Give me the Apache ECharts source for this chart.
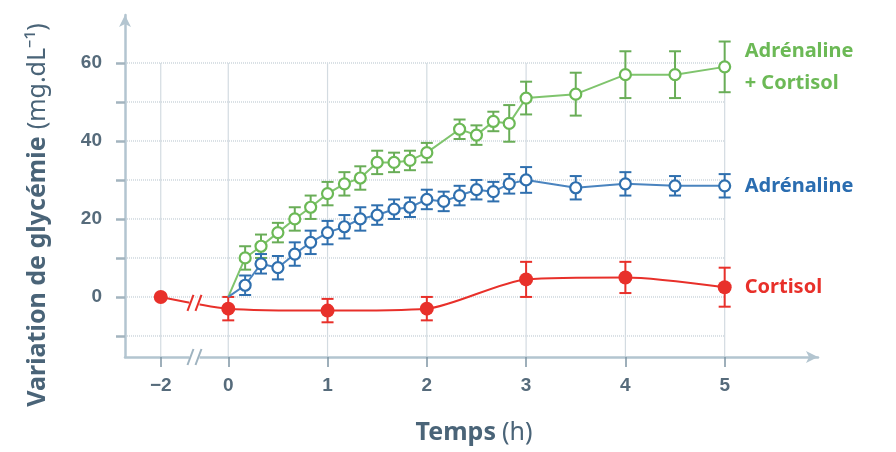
<!DOCTYPE html>
<html>
<head>
<meta charset="utf-8">
<script src="https://cdn.jsdelivr.net/npm/echarts@6/dist/echarts.min.js"></script>
<style>
  html, body { margin: 0; background: #fff; }
  #chart { width: 896px; height: 452px; }
</style>
</head>
<body>
<div id="chart"></div>
<script>
// Adrénaline
const timesAdr = [0, 0.17, 0.33, 0.5, 0.67, 0.83, 1, 1.17, 1.33, 1.5, 1.67, 1.83, 2, 2.17, 2.33, 2.5, 2.67, 2.83, 3, 3.5, 4, 4.5, 5];
const adrMean = [0, 3, 8.5, 7.5, 11, 14, 16.5, 18, 20, 21, 22.5, 23, 25, 24.5, 26, 27.5, 27, 29, 30, 28, 29, 28.5, 28.5];
const adrErr = [0, 2.5, 2.5, 3, 3, 3, 3, 3, 3, 2.5, 2.5, 2.5, 2.5, 2.5, 2.5, 2.5, 2.5, 2.5, 3.3, 3, 3, 2.5, 3];

// Adrénaline + Cortisol
const timesMix = [0, 0.17, 0.33, 0.5, 0.67, 0.83, 1, 1.17, 1.33, 1.5, 1.67, 1.83, 2, 2.33, 2.5, 2.67, 2.83, 3, 3.5, 4, 4.5, 5];
const mixMean = [0, 10, 13, 16.5, 20, 23, 26.5, 29, 30.5, 34.5, 34.5, 35, 37, 43, 41.5, 45, 44.5, 51, 52, 57, 57, 59];
const mixErr = [0, 3, 3, 2.5, 3, 3, 3, 3, 3, 3, 2.5, 2.5, 2.5, 2.5, 2.5, 2.5, 4.7, 4.2, 5.5, 6, 6, 6.5];

// Cortisol
const timesCort = [-2, 0, 1, 2, 3, 4, 5];
const cortMean = [0, -3, -3.5, -3, 4.5, 5, 2.5];
const cortErr = [0, 3, 3, 3, 4.5, 4, 5];

const xTicks = [-2, 0, 1, 2, 3, 4, 5];
const yTicks = [-10, 0, 10, 20, 30, 40, 50, 60];
const yLabels = [0, 20, 40, 60];
const breakTimes = [-1];

// the axis is broken between -2 and 0: negative times are squeezed
const squeeze = 0.34;
const pos = t => (t < 0 ? t * squeeze : t);
const X_MIN = -1.04, X_MAX = 5.94, Y_MIN = -15.4, Y_MAX = 72.3;

const GREEN = '#6cb956', BLUE = '#2f6fae', RED = '#e8302a';
const TXT = '#4a6478';
const TICK_FONT = 'Liberation Sans Narrow, Liberation Sans, sans-serif';

function lineData(times, mean) {
  return times.map((t, i) => (t === 0 && mean[i] === 0)
    ? { value: [pos(t), mean[i]], symbol: 'none' }
    : [pos(t), mean[i]]);
}

function errData(times, mean, err) {
  return times.map((t, i) => [pos(t), mean[i] - err[i], mean[i] + err[i]])
    .filter((d, i) => err[i] > 0);
}

function errSeries(data, color) {
  return {
    type: 'custom',
    z: 3,
    data,
    encode: { x: 0, y: [1, 2] },
    renderItem(params, api) {
      const lo = api.coord([api.value(0), api.value(1)]);
      const hi = api.coord([api.value(0), api.value(2)]);
      const w = 6;
      const style = { stroke: color, lineWidth: 2 };
      return {
        type: 'group',
        children: [
          { type: 'line', shape: { x1: lo[0], y1: lo[1], x2: hi[0], y2: hi[1] }, style },
          { type: 'line', shape: { x1: lo[0] - w, y1: lo[1], x2: lo[0] + w, y2: lo[1] }, style },
          { type: 'line', shape: { x1: hi[0] - w, y1: hi[1], x2: hi[0] + w, y2: hi[1] }, style }
        ]
      };
    }
  };
}

const chart = echarts.init(document.getElementById('chart'));

chart.setOption({
  animation: false,
  backgroundColor: '#ffffff',
  grid: { left: 125, right: 78, top: 15, bottom: 95, outerBoundsMode: 'none' },
  xAxis: {
    type: 'value',
    min: X_MIN,
    max: X_MAX,
    splitLine: { show: false },
    axisLine: {
      show: true,
      onZero: false,
      symbol: ['none', 'arrow'],
      symbolSize: [9, 12],
      lineStyle: { color: '#b3c5d0', width: 2.5 }
    },
    axisTick: {
      show: true,
      customValues: xTicks.map(pos),
      length: 10,
      lineStyle: { color: '#7f95a4', width: 1.5 }
    },
    axisLabel: {
      customValues: xTicks.map(pos),
      margin: 19,
      color: '#566b7b',
      fontSize: 19,
      fontWeight: 'bold',
      fontFamily: TICK_FONT,
      formatter: v => {
        const t = Math.round(v < 0 ? v / squeeze : v);
        return t < 0 ? '\u2212' + Math.abs(t) : String(t);
      }
    }
  },
  yAxis: {
    type: 'value',
    min: Y_MIN,
    max: Y_MAX,
    splitLine: { show: false },
    axisLine: {
      show: true,
      onZero: false,
      symbol: ['none', 'arrow'],
      symbolSize: [9, 12],
      lineStyle: { color: '#b3c5d0', width: 2.5 }
    },
    axisTick: {
      show: true,
      customValues: yTicks,
      length: 9,
      lineStyle: { color: '#a3b4bf', width: 2.5 }
    },
    axisLabel: {
      customValues: yLabels,
      margin: 23,
      color: '#566b7b',
      fontSize: 19,
      fontWeight: 'bold',
      fontFamily: TICK_FONT
    }
  },
  graphic: [
    {
      type: 'text',
      x: 38,
      y: 215,
      rotation: Math.PI / 2,
      style: {
        text: '{a|Variation de glycémie}{b|(mg.dL⁻¹)}',
        align: 'center',
        verticalAlign: 'middle',
        rich: {
          a: { fontSize: 25, fontWeight: 'bold', fill: TXT, fontFamily: 'Noto Sans' },
          b: { fontSize: 25, fill: TXT, fontFamily: 'Noto Sans', padding: [0, 0, 0, 7] }
        }
      }
    },
    {
      type: 'text',
      x: 474,
      y: 433,
      style: {
        text: '{a|Temps}{b|(h)}',
        align: 'center',
        verticalAlign: 'middle',
        rich: {
          a: { fontSize: 25, fontWeight: 'bold', fill: TXT, fontFamily: 'Noto Sans' },
          b: { fontSize: 25, fill: TXT, fontFamily: 'Noto Sans', padding: [0, 0, 0, 6] }
        }
      }
    }
  ],
  series: [
    {
      // background grid: horizontal lines up to t = 5, vertical lines up to 60
      type: 'custom',
      z: 0,
      silent: true,
      data: yTicks.map(v => [0, v]).concat(xTicks.map(t => [1, pos(t)])),
      renderItem(params, api) {
        const kind = api.value(0), v = api.value(1);
        let a, b, style;
        if (kind === 0) {
          a = api.coord([X_MIN, v]);
          b = api.coord([5, v]);
          style = { stroke: '#d9e0e5', lineWidth: 2, lineDash: [1, 1] };
        } else {
          a = api.coord([v, 60]);
          b = api.coord([v, Y_MIN]);
          style = { stroke: '#d3dbe1', lineWidth: 1.2 };
        }
        return { type: 'line', shape: { x1: a[0], y1: a[1], x2: b[0], y2: b[1] }, style };
      }
    },
    errSeries(errData(timesMix, mixMean, mixErr), '#69ad57'),
    errSeries(errData(timesAdr, adrMean, adrErr), BLUE),
    errSeries(errData(timesCort, cortMean, cortErr), RED),
    {
      name: 'Adrénaline + Cortisol',
      type: 'line',
      z: 4,
      data: lineData(timesMix, mixMean),
      symbol: 'circle',
      symbolSize: 11,
      lineStyle: { color: '#7fc46d', width: 2 },
      itemStyle: { color: '#ffffff', borderColor: GREEN, borderWidth: 2.2 },
      endLabel: {
        show: true,
        formatter: 'Adrénaline\n+ Cortisol',
        distance: 20,
        color: GREEN,
        fontSize: 20,
        fontWeight: 'bold',
        lineHeight: 32,
        fontFamily: 'Noto Sans'
      }
    },
    {
      name: 'Adrénaline',
      type: 'line',
      z: 4,
      data: lineData(timesAdr, adrMean),
      symbol: 'circle',
      symbolSize: 11,
      lineStyle: { color: '#4a84bf', width: 2 },
      itemStyle: { color: '#ffffff', borderColor: BLUE, borderWidth: 2.2 },
      endLabel: {
        show: true,
        formatter: 'Adrénaline',
        distance: 20,
        color: '#2b6db0',
        fontSize: 20,
        fontWeight: 'bold',
        fontFamily: 'Noto Sans'
      }
    },
    {
      name: 'Cortisol',
      type: 'line',
      z: 4,
      smooth: 0.25,
      data: lineData(timesCort, cortMean),
      symbol: 'circle',
      symbolSize: 14,
      lineStyle: { color: RED, width: 2 },
      itemStyle: { color: RED },
      endLabel: {
        show: true,
        formatter: 'Cortisol',
        distance: 20,
        color: RED,
        fontSize: 20,
        fontWeight: 'bold',
        fontFamily: 'Noto Sans'
      }
    },
    {
      // "//" break marks on the time axis and on the cortisol line
      type: 'custom',
      z: 6,
      silent: true,
      data: breakTimes.map(t => [pos(t), Y_MIN]).concat(breakTimes.map(t => [pos(t), -1.5])),
      renderItem(params, api) {
        const c = api.coord([api.value(0), api.value(1)]);
        const color = params.dataIndex < breakTimes.length ? '#9fb3c0' : RED;
        const mk = dx => ({
          type: 'line',
          shape: { x1: c[0] + dx - 3, y1: c[1] + 8, x2: c[0] + dx + 3, y2: c[1] - 8 },
          style: { stroke: color, lineWidth: 2 }
        });
        return {
          type: 'group',
          children: [
            { type: 'rect', shape: { x: c[0] - 5, y: c[1] - 3, width: 10, height: 6 }, style: { fill: '#ffffff' } },
            mk(-4), mk(4)
          ]
        };
      }
    }
  ]
});
</script>
</body>
</html>
